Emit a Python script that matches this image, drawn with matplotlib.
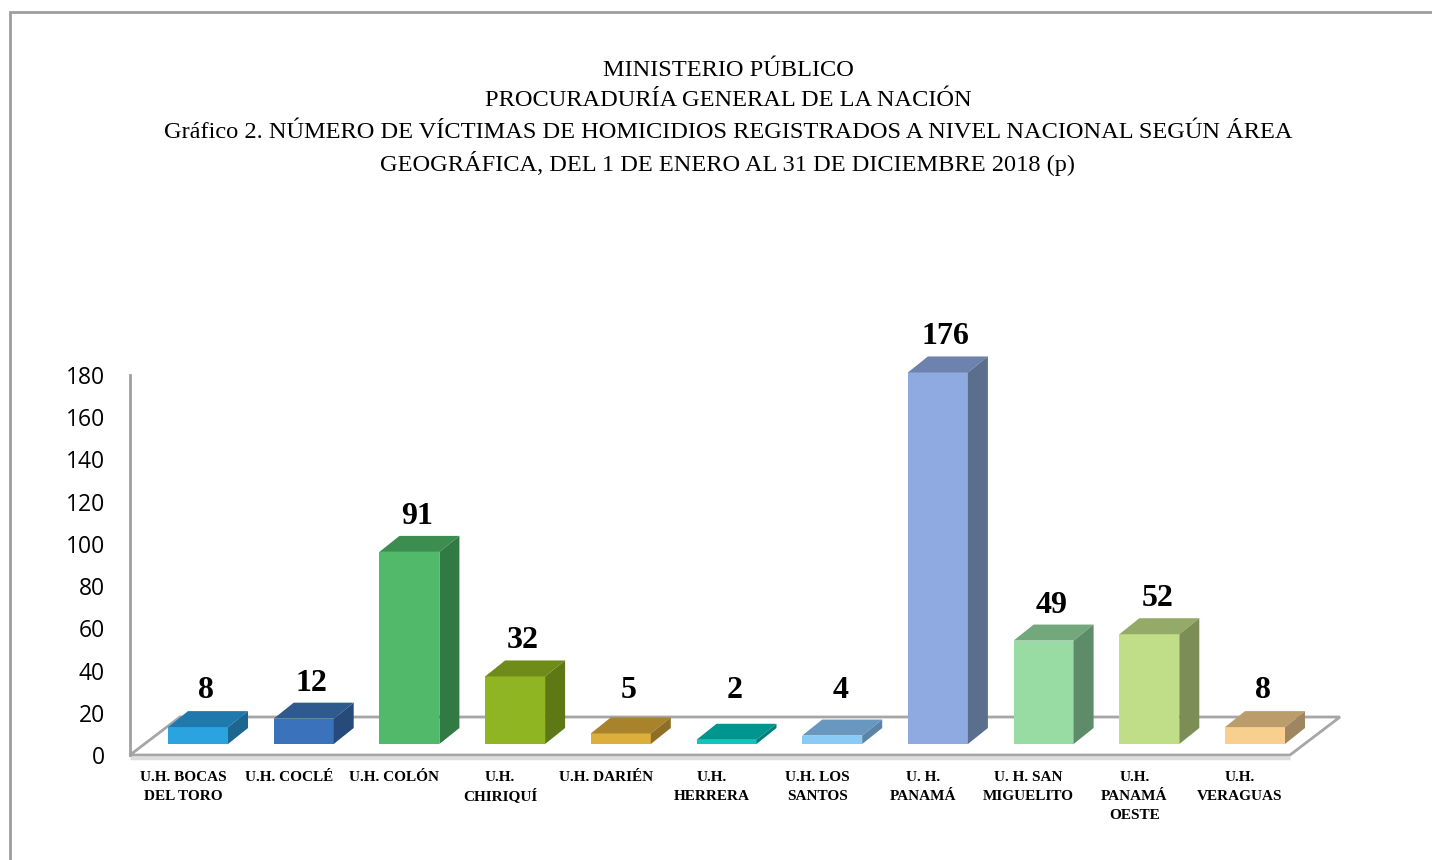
import matplotlib
matplotlib.use("Agg")
import matplotlib.pyplot as plt
from matplotlib.patches import Polygon, Rectangle

# ---- data ----
categories = ["U.H. BOCAS\nDEL TORO", "U.H. COCLÉ", "U.H. COLÓN", "U.H.\nCHIRIQUÍ",
              "U.H. DARIÉN", "U.H.\nHERRERA", "U.H. LOS\nSANTOS", "U. H.\nPANAMÁ",
              "U. H. SAN\nMIGUELITO", "U.H.\nPANAMÁ\nOESTE", "U.H.\nVERAGUAS"]
values = [8, 12, 91, 32, 5, 2, 4, 176, 49, 52, 8]
yticks = [0, 20, 40, 60, 80, 100, 120, 140, 160, 180]
title_lines = ["MINISTERIO PÚBLICO",
               "PROCURADURÍA GENERAL DE LA NACIÓN",
               "Gráfico 2. NÚMERO DE VÍCTIMAS DE HOMICIDIOS REGISTRADOS A NIVEL NACIONAL SEGÚN ÁREA",
               "GEOGRÁFICA, DEL 1 DE ENERO AL 31 DE DICIEMBRE 2018 (p)"]

front_colors = ["#2BA3E0", "#3A72BB", "#50B96A", "#8FB622", "#DCAE3C", "#14C4BC",
                "#8ACBF5", "#8FAAE0", "#98DCA4", "#C0DE88", "#F8CF8E"]
top_colors = ["#2079AC", "#2E5A8E", "#3C8E50", "#6F8C1A", "#A8832C", "#00968F",
              "#6898C0", "#6D82AC", "#72A87C", "#94AA68", "#BB9D6C"]
side_colors = ["#1C6690", "#264B7A", "#317A44", "#5E7816", "#8E6F25", "#007F7A",
               "#5A84A8", "#5A6E8E", "#5E8C68", "#7C8E56", "#A08660"]

# ---- geometry (pixel-based layout) ----
W, H = 1432, 860
PX_CAT = 105.7          # px per category
PX_VAL = 2.111          # px per value unit
X0_PX = 198             # px of category 0 center
Y0_PX = 755             # px (from top) of value 0

fig = plt.figure(figsize=(W / 100, H / 100), dpi=100)
ax = fig.add_axes([0, 0, 1, 1])
ax.set_xlim(-X0_PX / PX_CAT, (W - X0_PX) / PX_CAT)
ax.set_ylim(-(H - Y0_PX) / PX_VAL, Y0_PX / PX_VAL)
for s in ax.spines.values():
    s.set_visible(False)
ax.set_xticks([])

def cx(px):
    return px / PX_CAT

def cy(px):
    return px / PX_VAL

# outer frame
fig.patches.append(Rectangle((10 / W, -0.1), 1.2, (H - 12) / H + 0.1, transform=fig.transFigure,
                             fill=False, edgecolor="#9E9E9E", linewidth=2.0, zorder=0))

# y axis as left spine
axis_x = cx(130 - X0_PX)
ax.spines["left"].set_visible(True)
ax.spines["left"].set_position(("data", axis_x))
ax.spines["left"].set_bounds(0, 180)
ax.spines["left"].set_color("#A0A0A0")
ax.spines["left"].set_linewidth(2.0)
ax.set_yticks(yticks)
ax.set_yticklabels([str(t) for t in yticks], fontsize=16.5, family="Open Sans")
ax.tick_params(axis="y", length=0, pad=18)

# floor
floor_left = axis_x
floor_right = cx(1290 - X0_PX)
fdx, fdy = cx(50), cy(38)
floor = Polygon([(floor_left, 0), (floor_right, 0), (floor_right + fdx, fdy), (floor_left + fdx, fdy)],
                closed=True, facecolor="white", edgecolor="#A6A6A6", linewidth=2.0, zorder=1)
ax.add_patch(floor)
ax.plot([floor_left, floor_right], [-cy(2.5), -cy(2.5)], color="#DDDDDD", lw=2.5, zorder=0.9,
        solid_capstyle="butt")

# bars
bw = cx(60)
bdx, bdy = cx(20), cy(16)
base = cy(11)
xs = list(range(len(values)))
ax.bar(xs, values, width=bw, bottom=base, color=front_colors, zorder=3, linewidth=0)
for i, v in enumerate(values):
    l, r = i - bw / 2, i + bw / 2
    t = base + v
    ax.add_patch(Polygon([(l, t), (r, t), (r + bdx, t + bdy), (l + bdx, t + bdy)],
                         closed=True, facecolor=top_colors[i], edgecolor="none", zorder=3))
    ax.add_patch(Polygon([(r, base), (r + bdx, base + bdy), (r + bdx, t + bdy), (r, t)],
                         closed=True, facecolor=side_colors[i], edgecolor="none", zorder=3))
    ly = max(t + bdy + cy(5), fdy + cy(12))
    ax.text(i + cx(8), ly, str(v), ha="center", va="bottom", fontsize=23,
            fontweight="bold", family="Liberation Serif", zorder=4)
    for k, part in enumerate(categories[i].split("\n")):
        ax.text(i - cx(15), -cy(26 + 19 * k), part, ha="center", va="baseline",
                fontsize=11, fontweight="bold", family="Liberation Serif", zorder=4)

# title
for k, line in enumerate(title_lines):
    fig.text(728 / W, 1 - (70 + 31 * k) / H, line, ha="center", va="center",
             fontsize=17.6, family="Liberation Serif")

fig.savefig("out.png", dpi=100)
